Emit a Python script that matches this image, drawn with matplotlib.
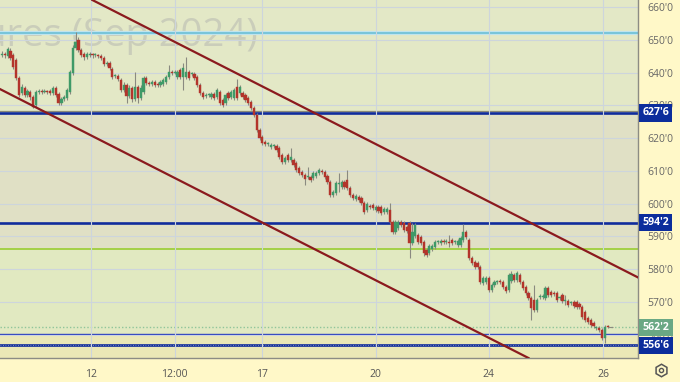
import matplotlib.pyplot as plt
import matplotlib.transforms as mtrans

plt.rcParams['font.family'] = ['Open Sans', 'DejaVu Sans']

# 4h candles (price units)
opens = [645.4, 645.7, 645.1, 646.7, 645.4, 643.9, 638.4, 633.8, 635.4, 633.2,
         634.1, 632.6, 630.2, 634.1, 634.4, 634.1, 634.4, 634.4, 633.8, 635.4,
         633.5, 630.8, 632.0, 632.3, 634.1, 639.9, 647.6, 650.0, 647.0, 645.7,
         644.8, 645.4, 645.7, 645.4, 645.4, 645.1, 644.5, 642.7, 643.0, 641.2,
         639.0, 639.0, 637.8, 634.7, 636.3, 632.9, 635.4, 632.0, 635.7, 632.3,
         634.1, 638.4, 636.9, 636.6, 637.2, 636.6, 636.3, 636.6, 637.2, 638.7,
         640.2, 639.9, 638.7, 640.9, 638.7, 638.7, 640.2, 639.6, 639.6, 638.7,
         636.3, 633.8, 632.9, 633.2, 632.6, 633.5, 632.6, 634.1, 631.7, 630.8,
         633.8, 632.6, 632.3, 635.7, 633.8, 633.8, 633.2, 632.3, 631.1, 629.2,
         627.1, 622.5, 620.4, 618.8, 618.2, 617.3, 617.6, 617.6, 617.0, 614.9,
         612.7, 614.9, 613.3, 613.3, 612.4, 610.9, 609.7, 608.8, 608.1, 608.1,
         607.8, 608.4, 609.4, 610.0, 609.7, 608.4, 606.6, 602.6, 603.2, 606.0,
         605.1, 606.6, 607.2, 604.8, 602.6, 601.4, 602.0, 601.7, 600.2, 598.0,
         599.3, 599.6, 598.0, 599.0, 599.0, 597.4, 597.4, 598.0, 594.4, 591.3,
         592.5, 594.4, 594.1, 592.8, 594.1, 588.0, 590.1, 590.4, 589.8, 588.3,
         585.8, 584.9, 586.1, 586.7, 588.3, 588.0, 588.6, 588.3, 588.3, 588.9,
         588.3, 587.4, 587.4, 588.9, 591.3, 588.9, 583.4, 582.1, 581.8, 580.6,
         575.7, 576.0, 577.3, 573.6, 575.1, 576.0, 576.3, 576.0, 574.5, 573.6,
         576.3, 578.2, 576.6, 578.2, 576.0, 574.5, 572.7, 571.1, 570.5, 567.5,
         571.4, 571.4, 571.1, 574.2, 573.0, 572.7, 572.7, 571.1, 572.0, 570.2,
         570.2, 569.6, 569.9, 569.9, 569.3, 568.4, 566.9, 565.0, 564.4, 563.5,
         562.0, 562.0, 561.4, 558.9, 562.6]
highs = [646.6, 646.3, 647.9, 647.4, 646.0, 644.5, 639.0, 636.6, 636.0, 635.1,
         634.7, 633.2, 634.7, 635.1, 635.1, 635.1, 634.7, 635.1, 636.0, 636.0,
         634.1, 632.6, 633.2, 635.4, 640.9, 648.5, 652.5, 651.0, 647.6, 646.3,
         646.3, 646.3, 646.0, 646.0, 645.7, 645.7, 645.1, 643.6, 643.6, 641.8,
         639.6, 639.6, 638.4, 637.2, 636.9, 636.3, 636.0, 640.2, 636.3, 636.3,
         639.0, 639.0, 637.5, 637.8, 637.8, 637.2, 637.8, 638.4, 639.3, 642.4,
         640.9, 640.9, 640.9, 641.5, 643.0, 644.8, 640.9, 640.2, 640.2, 639.3,
         636.9, 634.4, 633.8, 633.8, 634.1, 634.1, 635.4, 634.7, 632.3, 633.8,
         634.4, 634.7, 635.4, 638.1, 636.3, 634.4, 633.8, 632.9, 631.7, 629.8,
         627.7, 623.1, 621.0, 619.4, 618.8, 618.5, 618.2, 618.2, 617.6, 615.5,
         614.6, 615.5, 617.0, 613.9, 613.0, 611.5, 610.3, 609.4, 611.2, 608.7,
         610.0, 610.0, 610.9, 610.6, 610.3, 609.0, 607.2, 604.1, 606.9, 609.4,
         607.2, 607.2, 610.3, 605.4, 603.2, 602.9, 602.6, 602.3, 600.8, 600.5,
         599.9, 600.2, 599.6, 599.6, 599.6, 599.0, 599.0, 600.2, 595.0, 595.0,
         595.0, 595.0, 594.7, 593.4, 594.7, 594.1, 594.1, 591.0, 590.4, 588.9,
         586.4, 587.6, 587.6, 588.9, 588.9, 589.2, 589.2, 589.2, 590.4, 589.5,
         588.9, 589.2, 590.1, 593.8, 591.9, 589.5, 584.0, 582.7, 582.4, 581.2,
         577.9, 577.9, 577.9, 575.7, 576.6, 576.6, 576.9, 576.6, 575.1, 578.8,
         579.4, 578.8, 579.4, 578.8, 576.6, 575.1, 573.3, 571.7, 575.1, 571.1,
         572.3, 572.3, 574.8, 574.8, 573.6, 573.3, 573.3, 571.7, 572.6, 572.0,
         570.8, 570.2, 570.5, 570.5, 569.9, 569.0, 567.5, 565.6, 565.0, 564.1,
         562.6, 562.6, 562.0, 562.9, 562.9]
lows = [644.8, 644.6, 644.6, 643.9, 641.2, 637.8, 632.6, 633.2, 632.6, 632.6,
        631.7, 629.2, 629.5, 633.5, 633.5, 633.8, 633.5, 633.2, 633.2, 632.6,
        630.2, 630.2, 631.4, 631.7, 633.5, 639.3, 647.0, 646.4, 644.8, 643.9,
        644.2, 644.8, 644.5, 644.8, 644.5, 643.9, 642.1, 642.1, 640.9, 638.1,
        638.4, 637.5, 634.1, 634.1, 630.8, 632.3, 631.1, 631.4, 630.8, 631.7,
        633.5, 636.3, 636.0, 636.0, 635.7, 635.7, 635.7, 636.0, 636.6, 638.1,
        639.3, 639.6, 638.1, 638.1, 634.7, 638.1, 637.8, 639.0, 637.8, 635.7,
        633.2, 632.0, 632.3, 632.6, 632.0, 631.7, 632.0, 630.2, 629.5, 630.2,
        631.7, 632.0, 631.7, 631.7, 633.2, 632.0, 631.1, 630.2, 628.6, 626.5,
        621.9, 619.5, 617.9, 617.6, 617.6, 616.7, 617.0, 615.8, 613.7, 612.1,
        612.1, 612.7, 612.7, 611.2, 609.7, 608.8, 608.2, 605.7, 607.5, 606.6,
        607.2, 607.8, 608.8, 609.1, 607.5, 606.0, 602.0, 602.0, 602.6, 603.5,
        604.5, 604.5, 604.2, 602.0, 601.1, 600.8, 600.5, 599.6, 596.8, 597.4,
        598.4, 598.1, 597.4, 597.1, 596.5, 596.8, 596.8, 593.8, 590.7, 590.7,
        591.9, 592.9, 591.3, 591.0, 583.4, 587.4, 589.5, 587.7, 587.4, 584.0,
        583.7, 584.3, 585.5, 586.1, 587.7, 587.4, 587.7, 587.7, 586.7, 587.4,
        587.7, 586.7, 586.7, 588.3, 589.2, 582.8, 581.2, 580.0, 580.0, 575.4,
        575.1, 575.4, 573.0, 573.0, 574.5, 575.4, 575.4, 573.9, 572.7, 573.0,
        575.7, 576.0, 576.0, 575.4, 573.6, 572.1, 570.5, 564.4, 566.9, 566.9,
        570.8, 570.8, 570.5, 571.4, 571.4, 571.8, 569.9, 570.5, 569.6, 569.0,
        568.4, 569.0, 568.1, 567.8, 567.8, 564.7, 563.8, 563.2, 562.3, 562.0,
        561.4, 560.8, 558.3, 557.4, 562.0]
closes = [645.7, 645.4, 647.3, 644.5, 641.8, 638.4, 633.2, 635.7, 633.2, 634.4,
          632.6, 629.5, 634.1, 634.4, 634.1, 634.4, 634.1, 633.8, 635.4, 633.2,
          630.8, 632.0, 632.6, 634.7, 640.2, 647.6, 649.4, 647.0, 645.4, 644.8,
          645.7, 645.7, 645.4, 645.4, 645.1, 644.5, 642.7, 643.0, 641.5, 638.7,
          639.0, 638.1, 634.7, 636.3, 632.9, 635.4, 632.0, 635.7, 632.3, 635.4,
          638.4, 636.9, 636.6, 637.2, 636.3, 636.3, 637.2, 637.8, 638.7, 640.2,
          639.9, 640.2, 640.2, 638.7, 641.5, 640.2, 638.4, 639.6, 638.4, 636.3,
          633.8, 632.6, 633.2, 633.2, 633.5, 632.3, 634.7, 630.8, 630.2, 633.2,
          632.3, 634.1, 634.7, 632.3, 635.7, 632.6, 631.7, 630.8, 629.2, 627.1,
          622.5, 620.1, 618.5, 618.2, 618.2, 617.9, 617.6, 616.4, 614.3, 612.7,
          614.0, 613.3, 614.3, 611.8, 610.3, 609.4, 608.8, 607.5, 608.1, 607.2,
          609.4, 609.4, 610.3, 609.7, 608.1, 606.6, 602.6, 603.5, 606.3, 606.0,
          606.6, 605.1, 604.8, 602.6, 601.7, 602.3, 601.1, 600.2, 597.4, 599.9,
          599.0, 598.7, 599.0, 597.7, 597.1, 598.4, 598.4, 594.4, 591.3, 594.4,
          594.4, 593.5, 591.9, 591.6, 588.0, 591.3, 593.5, 588.3, 588.0, 584.9,
          584.3, 587.0, 587.0, 588.3, 588.3, 588.6, 588.3, 588.6, 588.0, 588.0,
          588.3, 588.6, 589.5, 591.3, 589.8, 583.4, 581.8, 580.6, 580.6, 576.0,
          577.3, 577.3, 573.6, 575.1, 576.0, 576.0, 576.0, 574.5, 573.3, 578.2,
          578.4, 576.6, 578.8, 576.0, 574.2, 572.7, 571.1, 568.1, 567.5, 570.5,
          571.7, 571.7, 574.2, 572.0, 572.0, 572.4, 570.5, 571.1, 570.2, 570.2,
          569.0, 569.6, 568.7, 568.4, 568.4, 565.3, 564.4, 563.8, 562.9, 562.6,
          562.0, 561.4, 558.9, 562.3, 562.3]

tick_pos = [31.5, 61, 92, 132, 172, 212.5]
tick_labels = ['12', '12:00', '17', '20', '24', '26']
price_ticks = [560, 570, 580, 590, 600, 610, 620, 630, 640, 650, 660]

# channel lines, two points each (candle index, price)
upper_channel = [(31.7, 662.3), (224.7, 577.5)]
lower_channel = [(-0.7, 635.0), (186.0, 552.9)]

# levels with boxed labels on the price axis
level_values = [627.75, 594.25, 556.75]
level_texts = ["627'6", "594'2", "556'6"]
last_price = 562.25
last_text = "562'2"

fig = plt.figure(figsize=(6.8, 3.82), dpi=100, facecolor='#fff8c8')
ax = fig.add_axes([0, 24 / 382, 638 / 680, 358 / 382])
ax.set_xlim(-0.7, 224.7)
ax.set_ylim(552.9, 662.2)

# background bands
ax.axhspan(627.75, 662.2, color='#e3e8c6', zorder=0)
ax.axhspan(586.3, 627.75, color='#e0e0c5', zorder=0)
ax.axhspan(560.3, 586.3, color='#e1e9c1', zorder=0)
ax.axhspan(552.9, 560.3, color='#ebe8b6', zorder=0)

ax.set_yticks(price_ticks)
ax.set_yticklabels([f"{p}'0" for p in price_ticks])
ax.set_xticks(tick_pos)
ax.set_xticklabels(tick_labels)
ax.grid(True, color='#cdd5dc', lw=0.8, zorder=0.5)
ax.yaxis.tick_right()
ax.tick_params(axis='y', length=0, pad=7, labelsize=7.5, labelcolor='#666666')
ax.tick_params(axis='x', length=0, pad=8, labelsize=7.5, labelcolor='#555555')
for s in ['top', 'left']:
    ax.spines[s].set_visible(False)
for s in ['right', 'bottom']:
    ax.spines[s].set_color('#8c8c84')
    ax.spines[s].set_linewidth(1)

# watermark
ax.text(258 / 638, 1 - 36 / 358, 'Wheat Futures (Sep 2024)', transform=ax.transAxes,
        ha='right', va='center', fontsize=27.5, color='#c6c9b8', alpha=0.85, zorder=0.8)

# horizontal levels
ax.axhline(652.0, color='#bfe4ee', lw=3, zorder=1)
ax.axhline(652.0, color='#6cbfd6', lw=1.2, zorder=1.1)
ax.axhline(628.4, color='#8a8a78', lw=0.9, zorder=1)
ax.axhline(586.3, color='#9acd32', lw=1.2, zorder=1)
ax.axhline(last_price, color='#8fc59a', lw=1, ls=(0, (1, 1.5)), zorder=1)
ax.axhline(560.3, color='#3045c0', lw=1, zorder=1)
for v in level_values:
    ax.axhline(v, color='#102c9c', lw=1.9, zorder=1.2)
ax.axhline(556.75, color='#9aa6c8', lw=0.6, ls=(0, (1, 2)), zorder=1.3)

# candles
for i in range(len(opens)):
    o, h, l, c = opens[i], highs[i], lows[i], closes[i]
    col = '#3f9a68' if c >= o else '#b3342b'
    ax.vlines(i, l, h, color='#8a8a80', lw=0.8, zorder=2)
    lo_b = min(o, c)
    hb = max(abs(c - o), 0.35)
    ax.bar(i, hb, bottom=lo_b, width=0.78, color=col, edgecolor=col, lw=0.3, zorder=3)
ax.hlines(last_price, len(opens) - 1, len(opens) + 0.8, color='#8a8a80', lw=0.8, zorder=3)

# channel
ax.axline(upper_channel[0], upper_channel[1], color='#8b1a1e', lw=1.6, zorder=4)
ax.axline(lower_channel[0], lower_channel[1], color='#8b1a1e', lw=1.6, zorder=4)

# boxed price labels
tr = mtrans.blended_transform_factory(ax.transAxes, ax.transData)
for v, t in zip(level_values, level_texts):
    ax.text(1.007, v, t, transform=tr, ha='left', va='center', fontsize=7.6,
            fontweight='bold', color='white', clip_on=False, zorder=10,
            bbox=dict(boxstyle='square,pad=0.3', fc='#0c2d9c', ec='none'))
ax.text(1.007, last_price, last_text, transform=tr, ha='left', va='center', fontsize=7.6,
        fontweight='bold', color='white', clip_on=False, zorder=9,
        bbox=dict(boxstyle='square,pad=0.3', fc='#6aa884', ec='none'))

# settings icon
fig.add_artist(plt.Line2D([661 / 680], [1 - 370 / 382], marker='h', markersize=9,
                          markerfacecolor='none', markeredgecolor='#555555',
                          markeredgewidth=1.1, transform=fig.transFigure))
fig.add_artist(plt.Line2D([661 / 680], [1 - 370 / 382], marker='o', markersize=3,
                          markerfacecolor='none', markeredgecolor='#555555',
                          markeredgewidth=1, transform=fig.transFigure))

fig.savefig('out.png', dpi=100, facecolor=fig.get_facecolor())
